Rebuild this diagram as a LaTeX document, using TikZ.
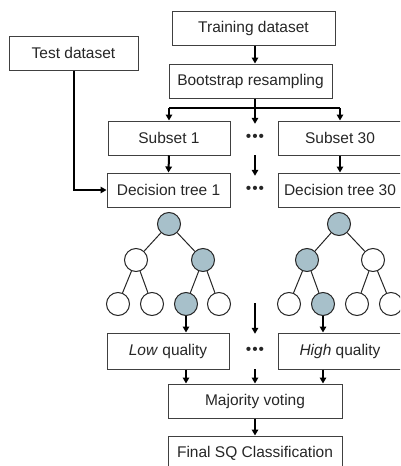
\documentclass[tikz,border=0pt]{standalone}
\usepackage{fontspec}
\setmainfont{Liberation Sans}
\usetikzlibrary{arrows.meta}

\definecolor{leafblue}{HTML}{A7C0CA}
\definecolor{boxgray}{HTML}{404040}

\tikzset{
	stagebox/.style={draw=boxgray, line width=1pt, minimum height=34, inner sep=0pt, text=black!85},
	dotsbox/.style={minimum height=34, inner sep=0pt, text=black!85},
	treenode/.style={circle, draw=black!85, line width=1pt, minimum size=23, inner sep=0pt, fill=white},
	usednode/.style={treenode, fill=leafblue},
	flow/.style={line width=2pt, -{Triangle[width=6.5pt,length=6pt]}},
	branch/.style={line width=2pt},
	treeedge/.style={line width=1pt, draw=black!85}
}

\begin{document}
\begin{tikzpicture}[x=1pt, y=-1pt, font=\fontsize{15.5}{18}\selectfont]

		\useasboundingbox (0,0) rectangle (400,466);
		\clip (0,0) rectangle (400,466);

		\node[stagebox, minimum width=163] (train) at (253.5,28) {Training dataset};
		\node[stagebox, minimum width=129] (test) at (73.5,53) {Test dataset};
		\node[stagebox, minimum width=163] (boot) at (250.5,81) {Bootstrap resampling};

		\node[stagebox, minimum width=122] (sub1) at (169,138) {Subset 1};
		\node[dotsbox] (dots1) at (255,138) {\kern1pt•\kern1pt•\kern1pt•\kern1pt};
		\node[stagebox, minimum width=124] (sub30) at (340,138) {Subset 30};

		\node[stagebox, minimum width=123] (tree1) at (168.5,190) {Decision tree 1};
		\node[dotsbox] (dots2) at (255,190) {\kern1pt•\kern1pt•\kern1pt•\kern1pt};
		\node[stagebox, minimum width=124] (tree30) at (340,190) {Decision tree 30};

		% left tree
		\node[usednode] (la) at (169,224) {};
		\node[treenode] (lb) at (136,260) {};
		\node[usednode] (lc) at (203,260) {};
		\node[treenode] (ld) at (118,304) {};
		\node[treenode] (le) at (152,304) {};
		\node[usednode] (lf) at (186,304) {};
		\node[treenode] (lg) at (219,304) {};
		\foreach \p/\c in {la/lb, la/lc, lb/ld, lb/le, lc/lf, lc/lg}
			\draw[treeedge] (\p) -- (\c);

		% right tree
		\node[usednode] (ra) at (339,224) {};
		\node[usednode] (rb) at (307,260) {};
		\node[treenode] (rc) at (373,260) {};
		\node[treenode] (rd) at (289,304) {};
		\node[usednode] (re) at (323,304) {};
		\node[treenode] (rf) at (357,304) {};
		\node[treenode] (rg) at (391,304) {};
		\foreach \p/\c in {ra/rb, ra/rc, rb/rd, rb/re, rc/rf, rc/rg}
			\draw[treeedge] (\p) -- (\c);

		\node[stagebox, minimum width=122, minimum height=36] (low) at (168,351) {\textit{Low} quality};
		\node[dotsbox, minimum height=36] (dots3) at (255,351) {\kern1pt•\kern1pt•\kern1pt•\kern1pt};
		\node[stagebox, minimum width=124, minimum height=36] (high) at (340,351) {\textit{High} quality};

		\node[stagebox, minimum width=174] (vote) at (255,401) {Majority voting};
		\node[stagebox, minimum width=174] (final) at (255,453) {Final SQ Classification};

		\coordinate (fork) at (255,108);
		\coordinate (midtree) at (255,303);

		\draw[flow] (train.south -| vote) -- (boot.north -| vote);
		\draw[branch] (boot.south -| vote) -- (fork);
		\draw[branch] (fork -| sub1) -- (fork -| sub30);
		\draw[flow] (fork -| sub1) -- (sub1.north);
		\draw[flow] (fork) -- ([yshift=-3]dots1.north);
		\draw[flow] (fork -| sub30) -- (sub30.north);

		\draw[flow] (sub1.south) -- (tree1.north);
		\draw[flow] (dots1.south) -- ([yshift=-3]dots2.north);
		\draw[flow] (sub30.south) -- (tree30.north);
		\draw[flow] (test.south) -- (test.south |- tree1.west) -- (tree1.west);

		\draw[flow] (lf.south) -- (lf.south |- low.north);
		\draw[flow] (midtree) -- ([yshift=-1]dots3.north);
		\draw[flow] (re.south) -- (re.south |- high.north);

		\draw[flow] (low.south -| lf) -- (vote.north -| lf);
		\draw[flow] (dots3.south) -- (vote.north);
		\draw[flow] (high.south -| re) -- (vote.north -| re);
		\draw[flow] (vote.south) -- (final.north);

	\end{tikzpicture}
\end{document}
